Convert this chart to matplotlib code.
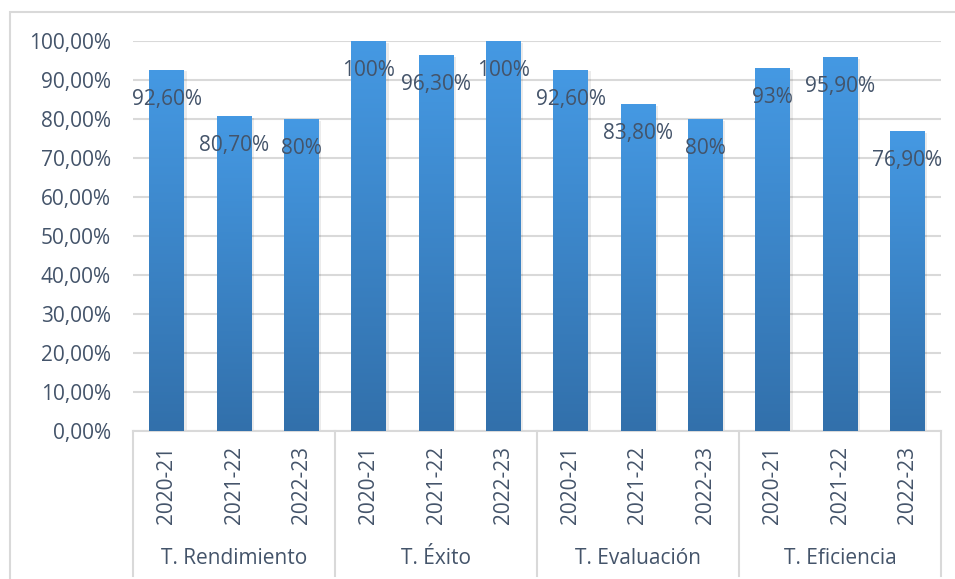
import matplotlib
matplotlib.use("Agg")
import matplotlib.pyplot as plt
import matplotlib.transforms as mtransforms
import numpy as np
from matplotlib.lines import Line2D
from matplotlib.patches import Rectangle
from matplotlib.colors import LinearSegmentedColormap


GROUPS = ["T. Rendimiento", "T. Éxito", "T. Evaluación", "T. Eficiencia"]
YEARS = ["2020-21", "2021-22", "2022-23"]
VALUES = [0.926, 0.807, 0.80, 1.00, 0.963, 1.00, 0.926, 0.838, 0.80, 0.93, 0.959, 0.769]
LABELS = ["92,60%", "80,70%", "80%", "100%", "96,30%", "100%",
          "92,60%", "83,80%", "80%", "93%", "95,90%", "76,90%"]
Y_TICKS = [0.0, 0.1, 0.2, 0.3, 0.4, 0.5, 0.6, 0.7, 0.8, 0.9, 1.0]

TEXT_COLOR = "#44546A"
GRID_COLOR = "#D9D9D9"
FONT = "Open Sans"
FS = 15

W, H = 955, 579


def px_x(x):
    return x / W


def px_y(y):
    return 1 - y / H


def main() -> None:
    plt.rcParams["font.family"] = [FONT, "DejaVu Sans"]

    fig = plt.figure(figsize=(W / 100, H / 100), dpi=100)
    ax = fig.add_axes([px_x(133), px_y(431), px_x(941) - px_x(133), px_y(41) - px_y(431)])

    n = len(VALUES)
    x = np.arange(n)
    bars = ax.bar(x, VALUES, width=0.51, color="none", edgecolor="none", zorder=3)

    # vertical gradient, lighter at the top
    cmap = LinearSegmentedColormap.from_list("bar", ["#3270AB", "#4599E3"])
    grad = np.linspace(0, 1, 256).reshape(-1, 1)
    for bar in bars:
        x0 = bar.get_x()
        w = bar.get_width()
        h = bar.get_height()
        # soft shadow
        ax.add_patch(Rectangle((x0 + 0.02, 0), w + 0.02, h - 0.004,
                               facecolor="#000000", alpha=0.08, edgecolor="none", zorder=2))
        im = ax.imshow(grad, extent=[x0, x0 + w, 0, h], origin="lower",
                       cmap=cmap, aspect="auto", zorder=3, vmin=0, vmax=1)
        im.set_clip_path(bar)

    for xi, v, lab in zip(x, VALUES, LABELS):
        ax.annotate(lab, (xi, v), xytext=(0, -21), textcoords="offset points",
                    ha="center", va="center", fontsize=FS, color=TEXT_COLOR, zorder=5)

    ax.set_xlim(-0.5, n - 0.5)
    ax.set_ylim(0, 1.0)
    ax.set_yticks(Y_TICKS)
    ax.set_yticklabels([f"{t * 100:.2f}%".replace(".", ",") for t in Y_TICKS])
    ax.yaxis.grid(True, color=GRID_COLOR, linewidth=1.5, zorder=0)
    ax.set_axisbelow(True)
    ax.tick_params(axis="y", length=0, pad=16, labelsize=FS, labelcolor=TEXT_COLOR)

    ax.set_xticks(x)
    ax.set_xticklabels(YEARS * len(GROUPS), rotation=90, va="top", ha="center")
    ax.tick_params(axis="x", length=0, pad=11, labelsize=FS, labelcolor=TEXT_COLOR)

    for side in ["top", "right", "left"]:
        ax.spines[side].set_visible(False)
    ax.spines["bottom"].set_color(GRID_COLOR)
    ax.spines["bottom"].set_linewidth(1.5)

    blend = mtransforms.blended_transform_factory(ax.transData, fig.transFigure)

    # group labels and dividers
    for gi, g in enumerate(GROUPS):
        xc = gi * 3 + 1
        ax.text(xc, px_y(558), g, transform=blend,
                ha="center", va="center", fontsize=FS, color=TEXT_COLOR)

    for k in range(len(GROUPS) + 1):
        xb = k * 3 - 0.5
        fig.add_artist(Line2D([xb, xb], [px_y(431), px_y(576)], transform=blend,
                              color=GRID_COLOR, linewidth=1.5))

    # outer chart border
    fig.add_artist(Rectangle((px_x(10), -0.05), 1.1, px_y(12) + 0.05,
                             transform=fig.transFigure, fill=False,
                             edgecolor=GRID_COLOR, linewidth=1.5))

    fig.savefig("out.png", dpi=100)
    plt.close(fig)


if __name__ == "__main__":
    main()
